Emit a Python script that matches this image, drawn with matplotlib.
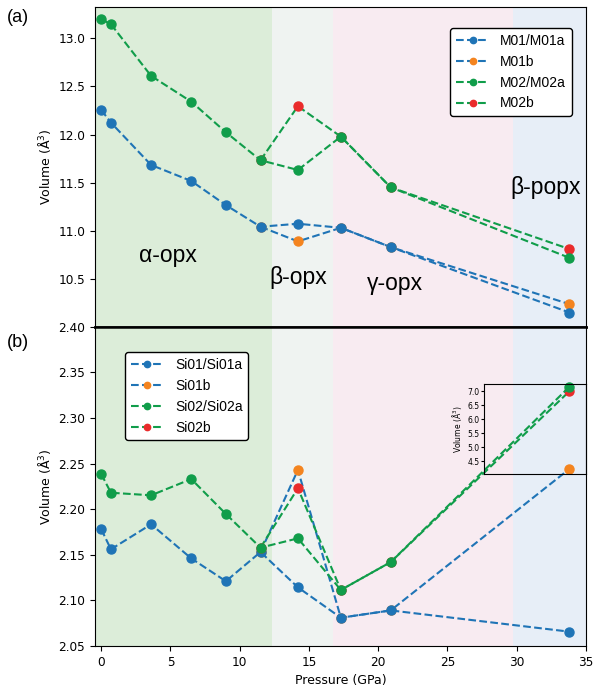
import numpy as np
import matplotlib
matplotlib.use("Agg")
import matplotlib.pyplot as plt

# pressures (GPa)
p = [0.0, 0.7, 3.6, 6.5, 9.0, 11.5, 14.2, 17.3, 20.9, 33.8]
p_b = [11.5, 14.2, 17.3, 20.9, 33.8]

# (a) M-site volumes
m01 = [12.256, 12.125, 11.686, 11.52, 11.27, 11.046, 11.077, 11.035, 10.835, 10.157]
m01b = [11.046, 10.894, 11.035, 10.835, 10.244]
m02 = [13.197, 13.145, 12.609, 12.342, 12.025, 11.735, 11.634, 11.98, 11.454, 10.724]
m02b = [11.735, 12.295, 11.98, 11.454, 10.815]

# (b) Si-site volumes; the last point of some series is read on the inset scale
si01 = [2.178, 2.156, 2.1834, 2.146, 2.121, 2.153, 2.1143, 2.081, 2.089, 2.0657]
si01b = [2.153, 2.243, 2.081, 2.089]
si01b_last = 4.225
si02 = [2.2385, 2.218, 2.2152, 2.233, 2.1947, 2.1578, 2.168, 2.1114, 2.142]
si02_last = 7.16
si02b = [2.1578, 2.2229, 2.1114, 2.142]
si02b_last = 7.0

regions = [(-1, 12.36, "#dcedd9"), (12.36, 16.73, "#eff3f1"),
           (16.73, 29.76, "#f8ebf1"), (29.76, 36, "#e7eef7")]
phases = [("α-opx", 4.8, 10.75), ("β-opx", 14.2, 10.52),
          ("γ-opx", 21.2, 10.46), ("β-popx", 32.1, 11.45)]

blue, orange, green, red = "#1f74b6", "#f4841f", "#109d4a", "#ea2b2b"

fig = plt.figure(figsize=(5.95, 6.91), dpi=100)
L, W = 95 / 595, 491 / 595
ax1 = fig.add_axes([L, 1 - 326.7 / 691, W, 319.4 / 691])
ax2 = fig.add_axes([L, 1 - 646 / 691, W, 319.3 / 691], sharex=ax1)

for ax in (ax1, ax2):
    for x0, x1, c in regions:
        ax.axvspan(x0, x1, color=c, lw=0, zorder=0)
    ax.tick_params(labelsize=8.7)
    ax.set_ylabel("Volume (Å$^3$)", fontsize=9)

leg_kw = dict(borderaxespad=0, prop={"family": "Liberation Sans", "size": 10},
              handlelength=2.4, framealpha=1, edgecolor="black", markerscale=0.7)

kw = dict(ls="--", marker="o", ms=6.5, lw=1.5)
ax1.plot(p_b, m01b, color=blue, mfc=orange, mec=orange, label="M01b", **kw)
ax1.plot(p, m01, color=blue, label="M01/M01a", **kw)
ax1.plot(p_b, m02b, color=green, mfc=red, mec=red, label="M02b", **kw)
ax1.plot(p, m02, color=green, label="M02/M02a", **kw)
ax1.set_xlim(-0.45, 35)
ax1.set_ylim(10.01, 13.32)
ax1.tick_params(axis="x", bottom=False, labelbottom=False)
ax1.spines["bottom"].set_linewidth(1.8)
for name, x, y in phases:
    ax1.text(x, y, name, fontsize=16.5, family="Liberation Sans",
             ha="center", va="center")
h, lab = ax1.get_legend_handles_labels()
order = [1, 0, 3, 2]
ax1.legend([h[i] for i in order], [lab[i] for i in order],
           loc="upper right", bbox_to_anchor=(0.971, 0.935), **leg_kw)

ax2.set_ylim(2.05, 2.40)
ax2.set_yticks(np.arange(2.05, 2.401, 0.05))
ax2.set_xticks([0, 5, 10, 15, 20, 25, 30, 35])
ax2.set_xlabel("Pressure (GPa)", fontsize=9)
ax2.spines["top"].set_linewidth(1.8)

# inset box for the large values at the highest pressure
in_x0, in_lo_main, in_hi_main = 27.6, 2.2389, 2.3369
in_lim = (4.057, 7.25)
axin = ax2.inset_axes([in_x0, in_lo_main, 35 - in_x0, in_hi_main - in_lo_main],
                      transform=ax2.transData)
axin.set_ylim(*in_lim)
axin.set_xticks([])
axin.set_yticks([4.5, 5.0, 5.5, 6.0, 6.5, 7.0])
axin.tick_params(labelsize=5.5, length=2, pad=1)
axin.set_ylabel("Volume (Å$^3$)", fontsize=5.5, labelpad=2)
axin.patch.set_alpha(0)


def to_main(v):
    f = (v - in_lim[0]) / (in_lim[1] - in_lim[0])
    return in_lo_main + f * (in_hi_main - in_lo_main)


kw2 = dict(kw, clip_on=False)
ax2.plot(p_b, si01b + [to_main(si01b_last)], color=blue,
         mfc=orange, mec=orange, label="Si01b", **kw2)
ax2.plot(p, si01, color=blue, label="Si01/Si01a", **kw2)
ax2.plot(p_b, si02b + [to_main(si02b_last)], color=green,
         mfc=red, mec=red, label="Si02b", **kw2)
ax2.plot(p, si02 + [to_main(si02_last)], color=green, label="Si02/Si02a", **kw2)
h, lab = ax2.get_legend_handles_labels()
ax2.legend([h[i] for i in order], [lab[i] for i in order],
           loc="upper left", bbox_to_anchor=(0.061, 0.92), **leg_kw)

fig.text(18 / 595, 1 - 18 / 691, "(a)", fontsize=13, family="Liberation Sans",
         ha="center", va="center")
fig.text(18 / 595, 1 - 342 / 691, "(b)", fontsize=13, family="Liberation Sans",
         ha="center", va="center")

fig.savefig("out.png", dpi=100)
